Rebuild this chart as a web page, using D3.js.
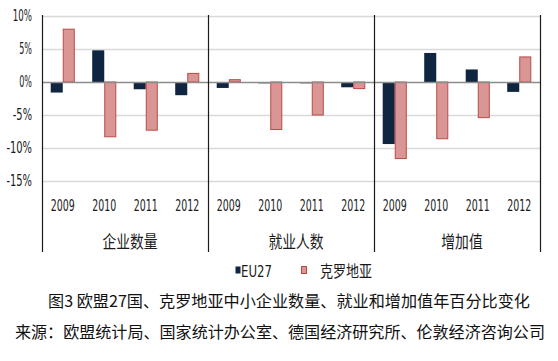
<!DOCTYPE html>
<html>
<head>
<meta charset="utf-8">
<script src="https://cdn.jsdelivr.net/npm/d3@7"></script>
<style>
html,body{margin:0;padding:0;background:#fff;}
svg{display:block;}
</style>
</head>
<body>
<svg id="chart" width="558" height="361"></svg>
<script>
// ---- data ----
const groups = ["企业数量", "就业人数", "增加值"];
const years = ["2009", "2010", "2011", "2012"];
const seriesNames = ["EU27", "克罗地亚"];
// values per group, per year (percent)
const eu27 = [-1.6, 4.8, -1.1, -2.0,   -0.9, -0.2, -0.2, -0.8,   -9.4, 4.4, 1.9, -1.5];
const croatia = [8.0, -8.3, -7.3, 1.3,   0.35, -7.2, -5.0, -1.0,   -11.6, -8.6, -5.4, 3.8];
const yTicks = [10, 5, 0, -5, -10, -15];
const captionText = "图3 欧盟27国、克罗地亚中小企业数量、就业和增加值年百分比变化";
const sourceText = "来源：欧盟统计局、国家统计办公室、德国经济研究所、伦敦经济咨询公司";

const colors = {EU27: "#10253f", croFill: "#d99694", croStroke: "#b84b48"};
const narrow = "'Liberation Sans Narrow','Arial Narrow','DejaVu Sans Condensed',sans-serif";
const cjk = "'Noto Sans CJK SC','Noto Sans CJK JP',sans-serif";

const svg = d3.select("#chart");
const plot = {left: 42, right: 540, top: 16, bottom: 181, axisBottom: 252};

const y = d3.scaleLinear().domain([-15, 10]).range([plot.bottom, plot.top]);
const xg = d3.scaleBand().domain(groups).range([plot.left, plot.right]).padding(0);
const xy = d3.scaleBand().domain(years).range([0, xg.bandwidth()]).paddingInner(0.42).paddingOuter(0.21);
const xs = d3.scaleBand().domain(seriesNames).range([0, xy.bandwidth()]).padding(0);

// rows
const rows = [];
groups.forEach((g, gi) => years.forEach((yr, yi) => {
  const i = gi * years.length + yi;
  rows.push({g, yr, s: "EU27", v: eu27[i]});
  rows.push({g, yr, s: "克罗地亚", v: croatia[i]});
}));

// gridlines
svg.append("g").selectAll("line").data(yTicks.filter(d => d !== 0)).join("line")
  .attr("x1", plot.left).attr("x2", plot.right)
  .attr("y1", d => Math.round(y(d)) + 0.5).attr("y2", d => Math.round(y(d)) + 0.5)
  .attr("stroke", "#d9d9d9").attr("stroke-width", 1.5);

// bars
svg.append("g").selectAll("rect").data(rows).join("rect")
  .attr("x", d => xg(d.g) + xy(d.yr) + xs(d.s) + (d.s === "EU27" ? 0 : 0.5))
  .attr("width", d => xs.bandwidth() - (d.s === "EU27" ? 0 : 1))
  .attr("y", d => Math.min(y(d.v), y(0)))
  .attr("height", d => Math.abs(y(d.v) - y(0)))
  .attr("fill", d => d.s === "EU27" ? colors.EU27 : colors.croFill)
  .attr("stroke", d => d.s === "EU27" ? "none" : colors.croStroke)
  .attr("stroke-width", 1);

// zero line
svg.append("line")
  .attr("x1", plot.left).attr("x2", plot.right)
  .attr("y1", Math.round(y(0)) + 0.5).attr("y2", Math.round(y(0)) + 0.5)
  .attr("stroke", "#8c8c8c").attr("stroke-width", 1.5);

// vertical separators (axis + group boundaries)
const seps = groups.map(g => xg(g)).concat([plot.right]);
svg.append("g").selectAll("line").data(seps).join("line")
  .attr("x1", d => Math.round(d) + 0.5).attr("x2", d => Math.round(d) + 0.5)
  .attr("y1", plot.top - 1).attr("y2", plot.axisBottom)
  .attr("stroke", "#1a1a1a").attr("stroke-width", 1.2);

// y-axis labels
svg.append("g").selectAll("text").data(yTicks).join("text")
  .attr("x", 32).attr("y", d => y(d))
  .attr("dy", "0.36em")
  .attr("text-anchor", "end")
  .attr("font-family", narrow).attr("font-size", 15).attr("fill", "#1a1a1a")
  .attr("textLength", d => (d + "%").length * 6.4)
  .attr("lengthAdjust", "spacingAndGlyphs")
  .text(d => d + "%");

// year labels
const yearLabels = [];
groups.forEach(g => years.forEach(yr => yearLabels.push({g, yr})));
svg.append("g").selectAll("text").data(yearLabels).join("text")
  .attr("x", d => xg(d.g) + xy(d.yr) + xy.bandwidth() / 2)
  .attr("y", 211)
  .attr("text-anchor", "middle")
  .attr("font-family", narrow).attr("font-size", 16).attr("fill", "#1a1a1a")
  .attr("textLength", 24).attr("lengthAdjust", "spacingAndGlyphs")
  .text(d => d.yr);

// group labels
svg.append("g").selectAll("text").data(groups).join("text")
  .attr("x", d => xg(d) + xg.bandwidth() / 2 + 5)
  .attr("y", 248)
  .attr("text-anchor", "middle")
  .attr("font-family", cjk).attr("font-size", 17).attr("fill", "#1a1a1a")
  .attr("textLength", d => d.length * 13.8).attr("lengthAdjust", "spacingAndGlyphs")
  .text(d => d);

// legend
const legend = svg.append("g");
const legendItems = [
  {name: seriesNames[0], x: 235, fill: colors.EU27, stroke: "none", font: narrow, size: 15, tl: 31},
  {name: seriesNames[1], x: 301, fill: colors.croFill, stroke: colors.croStroke, font: cjk, size: 16, tl: 52}
];
legendItems.forEach((it, i) => {
  legend.append("rect").attr("x", it.x + 0.5).attr("y", 266.5).attr("width", 5).attr("height", 7)
    .attr("fill", it.fill).attr("stroke", it.stroke).attr("stroke-width", 1);
  legend.append("text")
    .attr("x", it.x + (i === 0 ? 6 : 19)).attr("y", 276.5)
    .attr("font-family", it.font).attr("font-size", it.size).attr("fill", "#1a1a1a")
    .attr("textLength", it.tl).attr("lengthAdjust", "spacingAndGlyphs")
    .text(it.name);
});

// caption and source
svg.append("text").attr("x", 48).attr("y", 307)
  .attr("font-family", cjk).attr("font-size", 16).attr("fill", "#111")
  .attr("textLength", 482).attr("lengthAdjust", "spacingAndGlyphs")
  .text(captionText);
svg.append("text").attr("x", 15).attr("y", 338)
  .attr("font-family", cjk).attr("font-size", 16).attr("fill", "#111")
  .attr("textLength", 530).attr("lengthAdjust", "spacingAndGlyphs")
  .text(sourceText);
</script>
</body>
</html>
